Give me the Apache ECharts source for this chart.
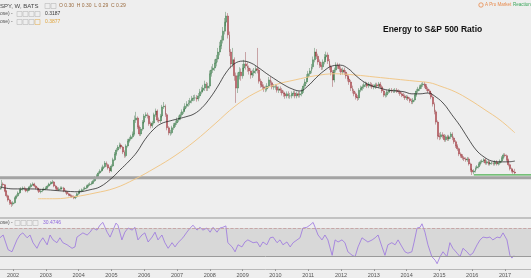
<!DOCTYPE html>
<html><head><meta charset="utf-8">
<script src="https://cdn.jsdelivr.net/npm/echarts@6/dist/echarts.min.js"></script>
<style>html,body{margin:0;padding:0;background:#eeeeee;}#c{width:531px;height:278px;}</style>
</head><body><div id="c"></div>
<script>
// Candles: one every STEP years from START_YEAR; values in thousandths of the XLE/SPY ratio
const START_YEAR = 2001.6;
const STEP = 0.05;
const OPEN0 = 250;
const closes = [
253,263,261,246,234,224,217,214,217,229,
234,241,249,251,253,251,246,249,256,261,
263,258,253,249,244,246,249,251,253,258,
263,266,268,258,253,249,251,253,253,246,
244,239,236,234,232,229,232,239,244,246,
249,251,253,258,261,263,266,271,278,283,
290,295,300,305,314,310,302,295,307,322,
336,346,353,358,353,341,332,356,368,373,
378,385,419,424,402,385,397,414,429,432,
429,410,405,412,432,441,419,417,429,451,
453,432,400,388,388,400,407,412,419,424,
432,439,446,453,458,461,466,471,473,473,
471,478,488,492,497,507,497,502,532,541,
546,558,568,585,600,614,636,658,673,627,
585,556,566,527,497,527,536,527,546,556,
551,546,539,529,534,539,544,541,514,505,
500,495,495,502,517,510,500,500,500,492,
495,492,485,483,478,483,478,478,483,485,
478,483,480,483,490,502,512,524,532,539,
549,566,585,575,561,553,549,561,573,578,
563,549,536,517,541,553,551,544,536,541,
536,527,519,512,497,490,483,475,473,492,
497,500,505,507,502,507,505,500,500,505,
502,507,500,490,480,480,488,490,492,490,
490,492,490,488,483,480,478,473,475,471,
466,463,468,480,490,495,500,505,507,502,
495,490,485,475,458,439,414,380,378,383,
380,371,378,373,378,385,375,366,356,349,
336,332,327,324,322,324,312,297,292,295,
302,305,312,317,319,322,314,317,312,314,
314,312,317,312,314,319,327,334,332,322,
310,300,295,292,290];
const highs = [
258,273,267,263,248,237,227,220,221,232,
238,245,252,255,257,257,254,252,259,265,
267,266,261,256,252,250,252,255,257,261,
266,270,273,270,261,256,255,257,257,256,
249,247,242,239,237,235,235,242,247,250,
252,255,257,261,265,267,270,275,282,287,
294,299,305,310,319,318,313,305,311,327,
341,351,358,364,362,356,345,360,373,378,
383,391,430,439,428,406,402,419,434,438,
437,432,415,417,437,447,445,425,434,456,
463,457,436,404,395,405,412,418,425,430,
438,445,452,460,465,468,473,478,480,481,
480,485,495,500,505,515,512,510,540,550,
556,567,578,595,610,625,646,668,683,680,
635,592,595,572,535,535,548,545,556,566,
585,560,552,545,542,546,552,595,546,520,
512,506,503,509,524,524,515,507,507,506,
501,501,497,491,488,489,489,485,489,491,
491,489,489,489,496,508,519,531,539,546,
556,574,595,592,581,567,560,567,580,586,
584,568,554,541,547,560,559,557,550,547,
547,541,532,524,517,503,495,488,480,497,
503,506,511,513,512,512,512,510,506,510,
510,512,512,505,494,486,493,495,497,497,
495,497,497,494,492,487,485,482,480,479,
475,471,473,485,495,500,505,510,512,512,
507,500,494,490,480,462,444,418,388,390,
389,385,383,383,383,390,389,379,370,360,
352,340,336,331,328,329,328,315,301,299,
306,309,316,321,323,326,326,321,321,318,
318,318,321,321,318,323,331,338,338,335,
325,313,303,298,300];
const lows = [
246,250,256,243,230,220,212,207,210,215,
226,231,238,245,247,247,243,242,246,253,
258,255,250,245,241,240,243,246,248,250,
255,260,263,255,249,246,246,248,249,243,
240,236,233,230,229,226,226,229,236,241,
243,246,248,250,255,258,260,263,268,275,
280,287,292,297,302,305,298,290,292,304,
319,332,342,349,348,336,327,328,352,364,
369,374,381,412,397,380,380,393,410,424,
423,405,399,400,408,427,414,412,412,425,
446,427,394,382,381,384,395,402,407,414,
419,427,434,441,448,452,455,460,465,466,
464,465,472,482,486,490,490,490,496,525,
534,539,550,560,577,592,606,628,648,618,
575,545,548,515,461,485,518,515,520,538,
542,537,530,520,522,526,532,533,508,498,
493,488,487,489,497,503,494,493,493,486,
485,485,479,476,471,472,472,471,472,477,
472,472,474,474,477,485,497,507,518,526,
533,543,560,568,554,546,541,542,555,566,
556,541,528,500,511,535,544,537,529,530,
529,520,513,505,490,484,477,469,466,468,
487,491,495,500,497,497,499,495,494,495,
497,497,495,485,475,474,475,483,485,485,
485,485,485,483,478,475,473,468,468,466,
461,458,458,464,476,485,490,495,500,497,
490,485,480,470,452,433,408,372,370,372,
374,366,366,368,368,373,370,361,351,344,
331,327,322,319,317,317,308,292,285,287,
291,298,301,308,313,315,310,310,308,308,
310,308,308,308,308,310,315,323,328,318,
306,296,291,288,287];

// 50-week moving average (black)
const maFastDates = [2001.60,2002.00,2002.52,2003.01,2003.49,2004.01,2004.35,2004.65,2005.02,2005.26,2005.54,2005.78,2006.02,2006.27,2006.51,2006.79,2007.03,2007.27,2007.52,2007.76,2008.01,2008.25,2008.49,2008.74,2009.01,2009.26,2009.50,2009.74,2010.02,2010.26,2010.51,2010.75,2010.99,2011.24,2011.48,2011.73,2011.98,2012.23,2012.46,2012.70,2012.95,2013.19,2013.43,2013.68,2013.92,2014.16,2014.41,2014.65,2014.90,2015.14,2015.38,2015.63,2015.87,2016.12,2016.36,2016.60,2016.85,2017.09,2017.30];
const maFastValues = [256,251,251,249,246,244,249,256,278,297,319,341,371,395,410,417,422,427,434,449,473,502,534,556,563,558,546,532,517,505,495,490,502,522,539,551,553,544,527,512,502,497,492,490,488,483,483,485,475,458,432,405,375,346,329,319,317,317,319];
// 200-week moving average (orange)
const maSlowDates = [2002.76,2003.28,2003.89,2004.50,2005.11,2005.72,2006.33,2006.94,2007.55,2008.16,2008.77,2009.38,2009.99,2010.60,2011.21,2011.82,2012.43,2013.04,2013.65,2014.26,2014.71,2015.02,2015.48,2015.93,2016.39,2016.85,2017.30];
const maSlowValues = [227,227,232,241,253,275,302,332,368,410,453,485,505,517,527,532,529,524,519,514,510,502,488,468,444,419,388];

// RSI
const rsiDates = [2001.60,2001.70,2001.85,2001.97,2002.12,2002.21,2002.30,2002.43,2002.52,2002.61,2002.73,2002.82,2002.91,2003.04,2003.13,2003.22,2003.34,2003.43,2003.52,2003.65,2003.80,2003.89,2003.95,2004.04,2004.13,2004.26,2004.35,2004.44,2004.56,2004.65,2004.74,2004.87,2004.96,2005.05,2005.14,2005.20,2005.32,2005.41,2005.51,2005.63,2005.72,2005.81,2005.93,2006.02,2006.12,2006.24,2006.33,2006.42,2006.54,2006.63,2006.73,2006.85,2006.94,2007.03,2007.18,2007.30,2007.40,2007.49,2007.61,2007.70,2007.79,2007.91,2008.01,2008.10,2008.22,2008.31,2008.40,2008.49,2008.55,2008.68,2008.77,2008.86,2008.98,2009.07,2009.16,2009.32,2009.44,2009.53,2009.62,2009.74,2009.84,2009.93,2010.05,2010.14,2010.23,2010.35,2010.45,2010.54,2010.66,2010.75,2010.84,2010.96,2011.05,2011.15,2011.21,2011.30,2011.42,2011.51,2011.60,2011.73,2011.82,2011.91,2012.03,2012.12,2012.21,2012.34,2012.43,2012.52,2012.64,2012.73,2012.82,2012.95,2013.04,2013.13,2013.25,2013.34,2013.43,2013.55,2013.65,2013.74,2013.86,2013.95,2014.04,2014.16,2014.23,2014.32,2014.41,2014.47,2014.56,2014.65,2014.77,2014.87,2014.93,2015.02,2015.11,2015.23,2015.32,2015.41,2015.54,2015.63,2015.72,2015.84,2015.93,2016.02,2016.15,2016.24,2016.33,2016.45,2016.54,2016.63,2016.76,2016.85,2016.94,2017.06,2017.15,2017.21,2017.27];
const rsiValues = [56,60,39,36,53,60,63,56,60,49,41,50,56,46,60,53,49,56,49,46,41,43,57,60,63,60,64,70,67,74,78,64,57,67,77,74,53,64,70,67,71,53,60,63,50,57,64,53,60,49,41,49,43,49,56,64,70,74,67,71,67,70,64,71,64,70,71,73,49,43,36,46,43,50,53,49,50,43,50,46,56,57,49,53,46,50,43,49,53,56,70,71,74,78,71,60,53,60,53,31,53,50,53,49,36,31,29,43,56,53,50,53,56,60,43,31,46,49,46,53,43,36,34,36,50,70,71,76,64,46,29,24,19,29,36,29,49,41,34,29,41,36,31,34,46,53,57,56,57,53,57,56,63,53,31,27,30.5];

const yearLabels = [2002,2003,2004,2005,2006,2007,2008,2009,2010,2011,2012,2013,2014,2015,2016,2017];
const supportLevel = 0.278;
const greenLevel = 0.285;
const greenStart = 2016.05;
const rsiUpper = 70, rsiLower = 30;
const legendOHLC = 'O 0.30  H 0.30  L 0.29  C 0.29';
const legendFast = '0.3187', legendSlow = '0.3877', legendRsi = '30.4746';

const FONT = 'Liberation Sans, Arial, sans-serif';
const X_MIN = 2001.6037, X_MAX = 2017.7927;
const candles = closes.map((c, i) => [
  +(START_YEAR + i * STEP).toFixed(3),
  (i ? closes[i - 1] : OPEN0) / 1000, c / 1000, lows[i] / 1000, highs[i] / 1000
]);
const fast = maFastDates.map((t, i) => [t, maFastValues[i] / 1000]);
const slow = maSlowDates.map((t, i) => [t, maSlowValues[i] / 1000]);
const rsi = rsiDates.map((t, i) => [t, rsiValues[i]]);

function txt(x, y, s, fill, size, weight) {
  return {type: 'text', x: x, y: y, silent: true, z: 100,
    style: {text: s, fill: fill, fontSize: size || 5.5, fontFamily: FONT, fontWeight: weight || 'normal', verticalAlign: 'middle', align: 'left'}};
}
function box(x, y, stroke) {
  return {type: 'rect', silent: true, z: 100, shape: {x: x, y: y, width: 5, height: 5},
    style: {fill: 'rgba(0,0,0,0)', stroke: stroke || '#b8b8b8', lineWidth: 0.6}};
}

const chart = echarts.init(document.getElementById('c'));
chart.setOption({
  backgroundColor: '#eeeeee',
  animation: false,
  grid: [
    {left: 0, right: 0, top: 0, height: 218},
    {left: 0, right: 0, top: 218, height: 51}
  ],
  xAxis: [
    {type: 'value', gridIndex: 0, min: X_MIN, max: X_MAX, show: false},
    {type: 'value', gridIndex: 1, min: X_MIN, max: X_MAX,
      axisLine: {show: true, lineStyle: {color: '#b8b8b8', width: 1}},
      axisTick: {show: true, length: 2, customValues: yearLabels, lineStyle: {color: '#999'}},
      axisLabel: {fontSize: 5.5, color: '#555', margin: 3, fontFamily: FONT,
        customValues: yearLabels, formatter: v => String(Math.round(v))},
      splitLine: {show: false}}
  ],
  yAxis: [
    {type: 'value', gridIndex: 0, min: 0.18, max: 0.712, show: false},
    {type: 'value', gridIndex: 1, min: 11.4, max: 84.3, show: false}
  ],
  series: [
    {type: 'candlestick', xAxisIndex: 0, yAxisIndex: 0, data: candles,
      encode: {x: 0, y: [1, 2, 3, 4]}, barWidth: 1.4,
      itemStyle: {color: '#4a9a5e', color0: '#c4434c', borderColor: '#2f6b3d', borderColor0: '#8a2f35', borderWidth: 0.4}},
    {type: 'line', xAxisIndex: 0, yAxisIndex: 0, data: [[X_MIN, supportLevel], [X_MAX, supportLevel]],
      symbol: 'none', lineStyle: {color: '#a3a3a3', width: 3}, silent: true},
    {type: 'line', xAxisIndex: 0, yAxisIndex: 0, data: [[greenStart, greenLevel], [X_MAX, greenLevel]],
      symbol: 'none', lineStyle: {color: '#4caf50', width: 1.2}, silent: true},
    {type: 'line', xAxisIndex: 0, yAxisIndex: 0, data: slow, smooth: 0.4,
      symbol: 'none', lineStyle: {color: '#f1c88a', width: 1}, silent: true},
    {type: 'line', xAxisIndex: 0, yAxisIndex: 0, data: fast, smooth: 0.4,
      symbol: 'none', lineStyle: {color: '#2a2a2a', width: 0.8}, silent: true},
    {type: 'line', xAxisIndex: 1, yAxisIndex: 1, data: rsi,
      symbol: 'none', lineStyle: {color: '#9b74df', width: 0.8}, silent: true,
      markArea: {silent: true, itemStyle: {color: '#d8d8d8'}, data: [[{yAxis: rsiLower}, {yAxis: rsiUpper}]]},
      markLine: {silent: true, symbol: 'none', label: {show: false},
        data: [
          {yAxis: rsiUpper, lineStyle: {type: 'dashed', color: '#c39a9a', width: 0.8}},
          {yAxis: rsiLower, lineStyle: {type: 'solid', color: '#9a9a9a', width: 1}}
        ]}}
  ],
  graphic: [
    {type: 'line', silent: true, z: 50, shape: {x1: 0, y1: 218, x2: 531, y2: 218}, style: {stroke: '#b3b3b3', lineWidth: 1.5}},
    txt(0, 6, 'SPY, W, BATS', '#444', 6),
    box(45, 3.5), box(51, 3.5),
    txt(59, 6, legendOHLC, '#9a6b3f', 5),
    txt(0, 14, 'ose) -', '#555', 5),
    box(17, 11.5), box(23, 11.5), box(29, 11.5), box(35, 11.5),
    txt(45, 14, legendFast, '#333', 5),
    txt(0, 22, 'ose) -', '#555', 5),
    box(17, 19.5), box(23, 19.5), box(29, 19.5), box(35, 19.5, '#e3b25c'),
    txt(45, 22, legendSlow, '#e0a43a', 5),
    txt(0, 223, 'ose) -', '#555', 5),
    box(15, 220.5), box(21, 220.5), box(27, 220.5), box(33, 220.5),
    txt(43, 223, legendRsi, '#8f66dd', 5),
    {type: 'circle', silent: true, z: 100, shape: {cx: 481, cy: 5, r: 2.2}, style: {fill: 'rgba(0,0,0,0)', stroke: '#e8894a', lineWidth: 0.8}},
    txt(485, 5, 'A Pro Market', '#e8894a', 4.5),
    txt(513, 5, 'Reaction', '#3aa65a', 4.5),
    txt(383, 30, 'Energy to S&P 500 Ratio', '#111', 8.5, 'bold')
  ]
});
</script></body></html>
